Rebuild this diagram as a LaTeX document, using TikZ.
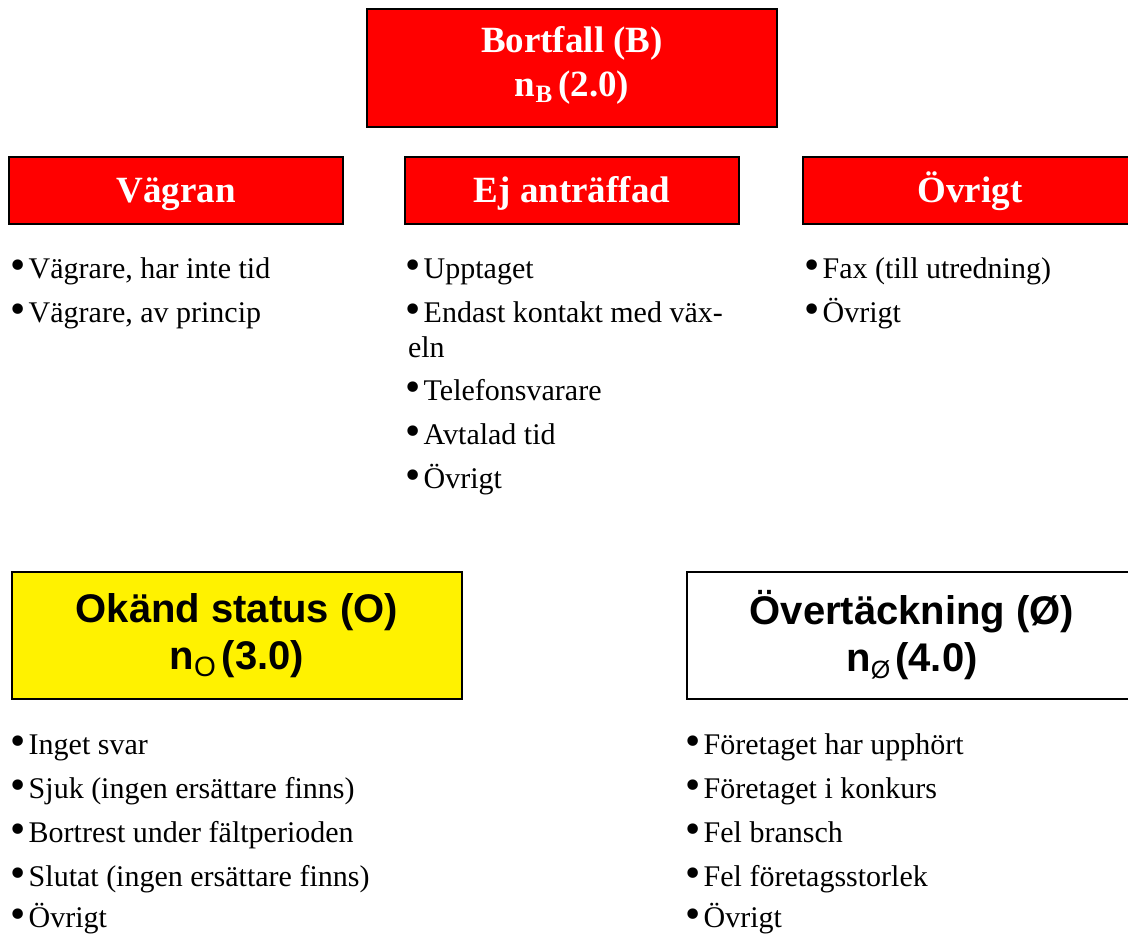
\documentclass[tikz,border=0pt]{standalone}
\usepackage{fontspec}
\setmainfont{Liberation Serif}
\setsansfont{Liberation Sans}
\newfontfamily\bulletfont{DejaVu Sans}
\newcommand\itembullet{{\bulletfont\fontsize{36}{36}\selectfont\raisebox{0pt}{•}}}
\tikzset{
  boxline/.style={draw=black, line width=2.5pt, inner sep=0pt, outer sep=0pt},
  catbox/.style={boxline, fill=red, text=white,
    font=\fontsize{37}{44}\selectfont\bfseries,
    minimum width=334pt, minimum height=67pt, text height=29pt, text depth=6pt},
  headbox/.style={boxline, fill=red, text=white,
    font=\fontsize{37}{44}\selectfont\bfseries,
    minimum width=410pt, minimum height=118pt, align=center},
  groupbox/.style={boxline, text=black,
    font=\sffamily\fontsize{40}{47}\selectfont\bfseries,
    minimum width=450pt, minimum height=127pt, align=center},
  entry/.style={anchor=base west, inner sep=0pt, outer sep=0pt,
    font=\fontsize{30}{35}\selectfont}
}
\begin{document}
\begin{tikzpicture}[x=1pt, y=-1pt]
\path[use as bounding box, clip] (0,0) rectangle (1128,934);

% main category
\node[headbox] (bortfall) at (572,68)
  {Bortfall (B)\\n\raisebox{-6pt}{\fontsize{25}{25}\selectfont B}\hspace{6pt}(2.0)\rule[-13pt]{0pt}{13pt}};

% sub-categories of Bortfall
\node[catbox] (vagran) at (176,190.5) {Vägran};
\node[catbox] (ej) at (572,190.5) {Ej anträffad};
\node[catbox] (ovrigt) at (970,190.5) {Övrigt};

% other outcome groups
\node[groupbox, fill=yellow] (okand) at (237,635.5)
  {Okänd status (O)\\n\raisebox{-7pt}{\fontsize{28}{28}\selectfont\mdseries O}\hspace{6pt}(3.0)};
\node[groupbox, fill=white] (overt) at (912,635.5)
  {Övertäckning (Ø)\\n\raisebox{-7pt}{\fontsize{25}{25}\selectfont\mdseries Ø}\hspace{5pt}(4.0)};

% items under Vägran
\node[entry] (v1) at (7.5,278) {\itembullet Vägrare, har inte tid};
\node[entry] (v2) at (7.5,322) {\itembullet Vägrare, av princip};

% items under Ej anträffad
\node[entry] (e1) at (402.5,278) {\itembullet Upptaget};
\node[entry] (e2) at (402.5,322)
  {\vtop{\hbox{\itembullet Endast kontakt med väx-}\hbox{\hspace{5.5pt}eln}}};
\node[entry] (e3) at (402.5,400) {\itembullet Telefonsvarare};
\node[entry] (e4) at (402.5,444) {\itembullet Avtalad tid};
\node[entry] (e5) at (402.5,488) {\itembullet Övrigt};

% items under Övrigt
\node[entry] (o1) at (801.5,278) {\itembullet Fax (till utredning)};
\node[entry] (o2) at (801.5,322) {\itembullet Övrigt};

% items under Okänd status
\node[entry] (k1) at (7.5,754) {\itembullet Inget svar};
\node[entry] (k2) at (7.5,798) {\itembullet Sjuk (ingen ersättare finns)};
\node[entry] (k3) at (7.5,842) {\itembullet Bortrest under fältperioden};
\node[entry] (k4) at (7.5,886) {\itembullet Slutat (ingen ersättare finns)};
\node[entry] (k5) at (7.5,927) {\itembullet Övrigt};

% items under Övertäckning
\node[entry] (t1) at (682.5,754) {\itembullet Företaget har upphört};
\node[entry] (t2) at (682.5,798) {\itembullet Företaget i konkurs};
\node[entry] (t3) at (682.5,842) {\itembullet Fel bransch};
\node[entry] (t4) at (682.5,886) {\itembullet Fel företagsstorlek};
\node[entry] (t5) at (682.5,927) {\itembullet Övrigt};
\end{tikzpicture}
\end{document}
